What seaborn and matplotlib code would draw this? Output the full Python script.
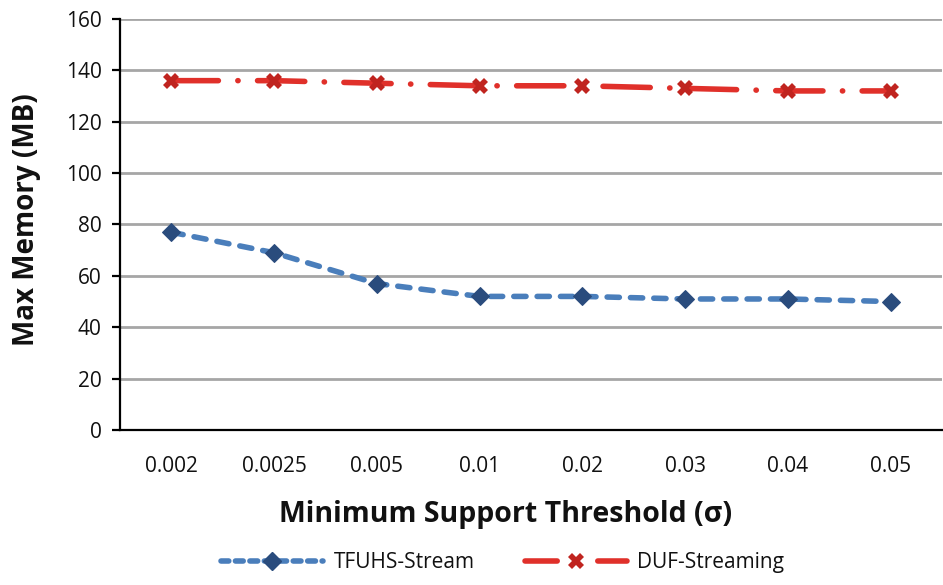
import matplotlib
matplotlib.use("Agg")
import matplotlib.pyplot as plt
from matplotlib.ticker import FixedLocator
from matplotlib.lines import Line2D
import seaborn as sns
import pandas as pd

thresholds = ["0.002", "0.0025", "0.005", "0.01", "0.02", "0.03", "0.04", "0.05"]
tfuhs = [77, 69, 57, 52, 52, 51, 51, 50]
duf = [136, 136, 135, 134, 134, 133, 132, 132]

sns.set_theme(style="white")
plt.rcParams['font.family'] = ['Open Sans', 'DejaVu Sans']

df = pd.DataFrame({"threshold": thresholds, "TFUHS-Stream": tfuhs, "DUF-Streaming": duf})

fig = plt.figure(figsize=(9.43, 5.85), dpi=100)
ax = fig.add_axes([0.127, 0.265, 0.872, 0.7025])

blue_line = "#4A7EBB"
blue_mark = "#2A4C7D"
red_line = "#E0302A"
red_mark = "#C0241F"

sns.lineplot(data=df, x="threshold", y="TFUHS-Stream", ax=ax, sort=False,
             color=blue_line, linewidth=4, linestyle=(0, (2.2, 2.0)),
             marker="D", markersize=9,
             markerfacecolor=blue_mark, markeredgecolor=blue_mark, zorder=3)
sns.lineplot(data=df, x="threshold", y="DUF-Streaming", ax=ax, sort=False,
             color=red_line, linewidth=4, linestyle=(0, (8.5, 3.5, 0.05, 3.5)),
             marker="X", markersize=11, markeredgewidth=0,
             markerfacecolor=red_mark, markeredgecolor=red_mark, zorder=3)
for ln in ax.get_lines():
    ln.set_dash_capstyle("round")

ax.set_xlim(-0.5, len(thresholds) - 0.5)
ax.set_ylim(0, 160)
ax.set_yticks(range(0, 161, 20))
ax.yaxis.grid(True, color="#A6A6A6", linewidth=2)
ax.xaxis.grid(False)
ax.set_axisbelow(True)

for s in ["top", "right"]:
    ax.spines[s].set_visible(False)
for s in ["left", "bottom"]:
    ax.spines[s].set_color("black")
    ax.spines[s].set_linewidth(1.6)

ax.xaxis.set_minor_locator(FixedLocator([i - 0.5 for i in range(len(thresholds) + 1)]))
ax.tick_params(axis="x", which="major", length=0, pad=19, labelsize=15, colors="#111111")
ax.tick_params(axis="x", which="minor", length=6, width=1.6, color="black", direction="out")
ax.tick_params(axis="y", which="major", length=6, width=1.6, color="black",
               direction="out", left=True, labelsize=15, pad=7, labelcolor="#111111")

ax.set_xlabel("Minimum Support Threshold (σ)", fontsize=20.5, fontweight="bold", color="#111111")
ax.xaxis.set_label_coords(0.469, -0.17)
ax.set_ylabel("Max Memory (MB)", fontsize=20, fontweight="bold", color="#111111")
ax.yaxis.set_label_coords(-0.096, 0.513)

handles = [
    Line2D([], [], color=blue_line, linewidth=4, linestyle=(0, (1.4, 1.2)),
           dash_capstyle="round", marker="D", markersize=9,
           markerfacecolor=blue_mark, markeredgecolor=blue_mark),
    Line2D([], [], color=red_line, linewidth=4, linestyle=(0, (5.8, 7.3)),
           dash_capstyle="round", marker="X", markersize=11, markeredgewidth=0,
           markerfacecolor=red_mark, markeredgecolor=red_mark),
]
fig.legend(handles, ["TFUHS-Stream", "DUF-Streaming"], loc="lower center",
           bbox_to_anchor=(0.533, -0.012), ncol=2, frameon=False, fontsize=15,
           handlelength=4.9, handletextpad=0.5, columnspacing=2.4,
           labelcolor="#111111")

fig.savefig("out.png", dpi=100)
